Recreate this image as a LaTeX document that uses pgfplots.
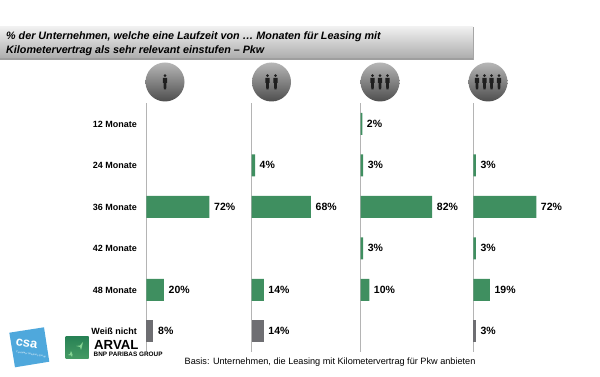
\documentclass[border=0pt]{standalone}
\usepackage{pgfplots}
\pgfplotsset{compat=1.18}
\usepackage{fontspec}
\setmainfont{Liberation Sans}
\definecolor{gbar}{HTML}{3F8F60}
\definecolor{gybar}{HTML}{6E6E72}
\definecolor{axl}{HTML}{B4B4B4}
\pgfplotsset{col/.style={
  scale only axis, width=100pt, height=249pt,
  xmin=0, xmax=114.3, ymin=-0.494, ymax=5.506,
  axis y line=left, axis x line=none, axis line style={axl,line width=0.9pt,-},
  ytick=\empty, clip=false,
  xbar, bar width=22pt, bar shift=0pt,
  point meta=explicit symbolic,
  nodes near coords,
  nodes near coords style={anchor=west, font=\fontsize{10.5}{12}\selectfont\bfseries, text=black, inner xsep=4.5pt, inner ysep=0pt, yshift=0.5pt},
}}
\newcommand{\person}[2]{% x, y centre (px coords y-down)
  \fill[black!88] (#1,{377-#2+6.3}) circle (1.5);
  \fill[black!88] ({#1-2.1},{377-#2+4.2}) -- ({#1+2.1},{377-#2+4.2}) -- ({#1+2.1},{377-#2-1}) -- ({#1+1.4},{377-#2-1}) -- ({#1+1.2},{377-#2-7.5}) -- ({#1-1.2},{377-#2-7.5}) -- ({#1-1.4},{377-#2-1}) -- ({#1-2.1},{377-#2-1}) -- cycle;
}
\begin{document}
\begin{tikzpicture}[x=1pt,y=1pt]
\useasboundingbox (0,0) rectangle (600,377);
% title band
\shade[top color=black!6, bottom color=black!33] (0,377-59) rectangle (473,377-27);
\fill[black!38] (0,377-60.5) rectangle (473,377-58);
\fill[black!35] (472.5,377-60) rectangle (473.8,377-27);
\node[anchor=north west, inner sep=0pt, align=left, font=\fontsize{10.75}{13.2}\selectfont\bfseries\itshape] at (6,377-32) {\% der Unternehmen, welche eine Laufzeit von … Monaten für Leasing mit\\Kilometervertrag als sehr relevant einstufen – Pkw};
% circles
\foreach \cx in {165,271.5,380,488}{
  \begin{scope}
  \clip (\cx,377-82) circle (19.5);
  \shade[top color=black!28, bottom color=black!70] (\cx-20,377-102) rectangle (\cx+20,377-62);
  \end{scope}
}
\person{165}{82}
\person{267.5}{82}\person{275.5}{82}
\person{372.5}{82}\person{380}{82}\person{387.5}{82}
\person{477}{82}\person{484.5}{82}\person{491.5}{82}\person{499}{82}
% axes
\begin{axis}[at={(146.5pt,25pt)},anchor=south west,col,
  ytick={5,4,3,2,1,0},
  yticklabels={12 Monate,24 Monate,36 Monate,42 Monate,48 Monate,Weiß nicht},
  major tick length=0pt,
  yticklabel style={font=\fontsize{9}{10}\selectfont\bfseries, inner sep=0pt, xshift=-9.5pt}]
\addplot[fill=gbar,draw=none] coordinates {(72,3)[72\%] (20,1)[20\%]};
\addplot[fill=gybar,draw=none] coordinates {(8,0)[8\%]};
\end{axis}
\begin{axis}[at={(251.5pt,25pt)},anchor=south west,col]
\addplot[fill=gbar,draw=none] coordinates {(4,4)[4\%] (68,3)[68\%] (14,1)[14\%]};
\addplot[fill=gybar,draw=none] coordinates {(14,0)[14\%]};
\end{axis}
\begin{axis}[at={(360.5pt,25pt)},anchor=south west,col]
\addplot[fill=gbar,draw=none] coordinates {(2,5)[2\%] (3,4)[3\%] (82,3)[82\%] (3,2)[3\%] (10,1)[10\%]};
\end{axis}
\begin{axis}[at={(473.3pt,25pt)},anchor=south west,col]
\addplot[fill=gbar,draw=none] coordinates {(3,4)[3\%] (72,3)[72\%] (3,2)[3\%] (19,1)[19\%]};
\addplot[fill=gybar,draw=none] coordinates {(3,0)[3\%]};
\end{axis}
% logos
\fill[color={rgb,255:red,79;green,168;blue,220}] (9.3,377-332.7) -- (44,377-327.3) -- (49.3,377-361.7) -- (15,377-367.3) -- cycle;
\node[rotate=-9, text=white, font=\fontsize{13}{13}\selectfont\bfseries, inner sep=0pt] at (26.5,377-344) {csa};
\node[rotate=-9, text=white, font=\fontsize{2.5}{3}\selectfont, inner sep=0pt, align=center] at (31,377-354.5) {Consumer Solutions Group};
\shade[top color={rgb,255:red,40;green,130;blue,85}, bottom color={rgb,255:red,70;green,155;blue,100}] (65.5,377-359) rectangle (88.5,377-337);
\fill[white!70!green!60!gbar] (83,377-342) -- (80,377-345.5) -- (76,377-346) -- (80,377-347) -- (81,377-350) -- (82,377-346.5) -- cycle;
\fill[white!70!green!60!gbar] (71,377-351) -- (70,377-354) -- (68,377-355) -- (71,377-355.5) -- (72,377-357) -- (72.5,377-354.5) -- cycle;
\node[anchor=west, inner sep=0pt, font=\fontsize{13.2}{14}\selectfont\bfseries] at (94,377-345) {ARVAL};
\node[anchor=west, inner sep=0pt, font=\fontsize{6.4}{7}\selectfont\bfseries] at (93.5,377-354.5) {BNP PARIBAS GROUP};
\node[anchor=west, inner sep=0pt, font=\fontsize{9.15}{10}\selectfont] at (184.5,377-362) {Basis: Unternehmen, die Leasing mit Kilometervertrag für Pkw anbieten};
\end{tikzpicture}
\end{document}
